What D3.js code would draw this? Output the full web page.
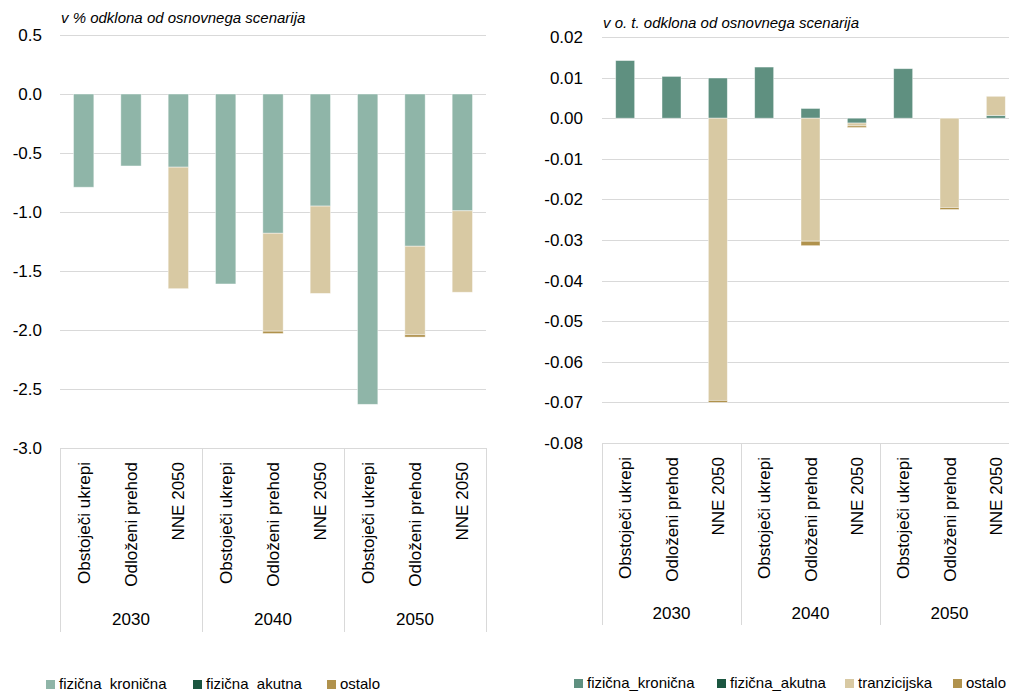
<!DOCTYPE html>
<html>
<head>
<meta charset="utf-8">
<script src="https://cdn.jsdelivr.net/npm/d3@7"></script>
<style>
  html, body { margin: 0; padding: 0; background: #fff; }
  svg { display: block; font-family: "Liberation Sans", Arial, sans-serif; }
</style>
</head>
<body>
<svg id="chart" width="1009" height="691"></svg>
<script>
// Categories: three scenarios within each year
const years = ["2030", "2040", "2050"];
const scenarios = ["Obstoječi ukrepi", "Odloženi prehod", "NNE 2050"];

// Left panel: v % odklona od osnovnega scenarija
const leftKronicna     = [-0.79, -0.61, -0.62, -1.61, -1.18, -0.95, -2.63, -1.29, -0.99];
const leftAkutna       = [0, 0, 0, 0, 0, 0, 0, 0, 0];
const leftTranzicijska = [0, 0, -1.03, 0, -0.83, -0.74, 0, -0.75, -0.69];
const leftOstalo       = [0, 0, 0, 0, -0.02, 0, 0, -0.02, 0];
const leftTicks = [0.5, 0.0, -0.5, -1.0, -1.5, -2.0, -2.5, -3.0];

// Right panel: v o. t. odklona od osnovnega scenarija
const rightKronicna     = [0.0142, 0.0103, 0.0099, 0.0126, 0.0024, -0.0012, 0.0122, 0, 0.0007];
const rightAkutna       = [0, 0, 0, 0, 0, 0, 0, 0, 0];
const rightTranzicijska = [0, 0, -0.0695, 0, -0.0303, -0.0007, 0, -0.0220, 0.0047];
const rightOstalo       = [0, 0, -0.0005, 0, -0.0011, -0.0004, 0, -0.0005, 0];
const rightTicks = [0.02, 0.01, 0.00, -0.01, -0.02, -0.03, -0.04, -0.05, -0.06, -0.07, -0.08];

const seriesKeys = ["kronicna", "akutna", "tranzicijska", "ostalo"];

const fmt = d3.formatLocale({decimal: ".", thousands: ",", grouping: [3], currency: ["", ""], minus: "-"});

const svg = d3.select("#chart");

function buildRows(kron, akut, tran, ost) {
  const rows = [];
  years.forEach((y, yi) => scenarios.forEach((s, si) => {
    const i = yi * scenarios.length + si;
    rows.push({key: y + "|" + s, year: y, scenario: s,
      kronicna: kron[i], akutna: akut[i], tranzicijska: tran[i], ostalo: ost[i]});
  }));
  return rows;
}

function drawPanel(opt) {
  const g = svg.append("g");
  const rows = buildRows(...opt.values);

  const x = d3.scaleBand()
    .domain(rows.map(d => d.key))
    .range([opt.x0, opt.x1])
    .paddingInner(opt.pad).paddingOuter(opt.pad / 2);

  // domain is [max, min] so the maximum sits at the top
  const y = d3.scaleLinear().domain(opt.domain).range([opt.yTop, opt.yBottom]);

  // horizontal gridlines
  g.append("g").selectAll("line").data(opt.ticks).join("line")
    .attr("x1", opt.x0).attr("x2", opt.x1)
    .attr("y1", d => Math.round(y(d)) + 0.5).attr("y2", d => Math.round(y(d)) + 0.5)
    .attr("stroke", "#d9d9d9").attr("stroke-width", 1);

  // y axis labels
  const yAxis = d3.axisLeft(y).tickValues(opt.ticks).tickSize(0).tickPadding(0)
    .tickFormat(fmt.format(opt.format));
  const ya = g.append("g").attr("transform", `translate(${opt.labelX},0)`).call(yAxis);
  ya.select(".domain").remove();
  ya.selectAll("text").attr("font-size", 17).attr("fill", "#000")
    .attr("font-family", "Liberation Sans, Arial, sans-serif");

  // stacked bars
  const stack = d3.stack().keys(seriesKeys).offset(d3.stackOffsetDiverging);
  const layers = stack(rows);
  g.append("g").selectAll("g").data(layers).join("g")
    .attr("fill", d => opt.colors[d.key])
    .selectAll("rect").data(d => d.filter(p => p[1] - p[0] !== 0)).join("rect")
    .attr("x", d => x(d.data.key))
    .attr("width", x.bandwidth())
    .attr("y", d => y(Math.max(d[0], d[1])))
    .attr("height", d => Math.abs(y(d[0]) - y(d[1])))
    .attr("stroke", "#ffffff").attr("stroke-opacity", 0.55).attr("stroke-width", 0.8);

  // category axis: group separators
  const groupW = (opt.x1 - opt.x0) / years.length;
  const seps = d3.range(years.length + 1).map(i => opt.x0 + i * groupW);
  g.append("g").selectAll("line").data(seps).join("line")
    .attr("x1", d => Math.round(d) + 0.5).attr("x2", d => Math.round(d) + 0.5)
    .attr("y1", opt.yBottom).attr("y2", opt.sepBottom)
    .attr("stroke", "#d9d9d9").attr("stroke-width", 1);

  // rotated scenario labels
  g.append("g").selectAll("text").data(rows).join("text")
    .attr("transform", d => `translate(${x(d.key) + x.bandwidth() / 2 + 6},${opt.catTop}) rotate(-90)`)
    .attr("text-anchor", "end")
    .attr("font-size", 17).attr("fill", "#000")
    .text(d => d.scenario);

  // year labels
  g.append("g").selectAll("text").data(years).join("text")
    .attr("x", (d, i) => opt.x0 + groupW * (i + 0.5))
    .attr("y", opt.yearY)
    .attr("text-anchor", "middle")
    .attr("font-size", 17).attr("fill", "#000")
    .text(d => d);

  // unit title
  g.append("text").attr("x", opt.x0 + 1).attr("y", opt.titleY)
    .attr("font-style", "italic").attr("font-size", 15).attr("fill", "#000")
    .text(opt.title);

  // legend
  const lg = g.append("g");
  opt.legend.forEach(item => {
    lg.append("rect").attr("x", item.x).attr("y", opt.legendY - 9)
      .attr("width", 9).attr("height", 9).attr("fill", opt.colors[item.key]);
    lg.append("text").attr("x", item.x + 13).attr("y", opt.legendY)
      .attr("font-size", 15).attr("fill", "#000").attr("xml:space", "preserve")
      .text(item.label);
  });
}

drawPanel({
  values: [leftKronicna, leftAkutna, leftTranzicijska, leftOstalo],
  x0: 60, x1: 486, pad: 0.57,
  domain: [0.5, -3.0], yTop: 35, yBottom: 448,
  ticks: leftTicks, format: ".1f", labelX: 42,
  colors: {kronicna: "#8fb5a8", akutna: "#1b5640", tranzicijska: "#d8c9a3", ostalo: "#b0924d"},
  sepBottom: 632, catTop: 462, yearY: 625, titleY: 23,
  title: "v % odklona od osnovnega scenarija",
  legendY: 689,
  legend: [
    {key: "kronicna", label: "fizična  kronična", x: 46},
    {key: "akutna", label: "fizična  akutna", x: 193},
    {key: "ostalo", label: "ostalo", x: 327}
  ]
});

drawPanel({
  values: [rightKronicna, rightAkutna, rightTranzicijska, rightOstalo],
  x0: 602, x1: 1019, pad: 0.59,
  domain: [0.02, -0.08], yTop: 37, yBottom: 443,
  ticks: rightTicks, format: ".2f", labelX: 583,
  colors: {kronicna: "#5f9080", akutna: "#1b5640", tranzicijska: "#d8c9a3", ostalo: "#b0924d"},
  sepBottom: 625, catTop: 457, yearY: 619, titleY: 28,
  title: "v o. t. odklona od osnovnega scenarija",
  legendY: 688,
  legend: [
    {key: "kronicna", label: "fizična_kronična", x: 574},
    {key: "akutna", label: "fizična_akutna", x: 717},
    {key: "tranzicijska", label: "tranzicijska", x: 845},
    {key: "ostalo", label: "ostalo", x: 953}
  ]
});
</script>
</body>
</html>
